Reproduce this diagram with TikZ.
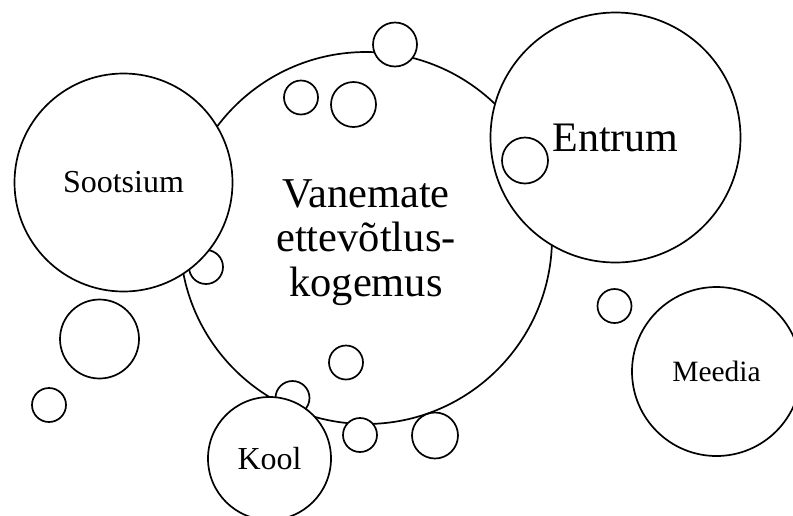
\documentclass[tikz,border=0pt]{standalone}
\usepackage{fontspec}
\setmainfont{Liberation Serif}
\begin{document}
\begin{tikzpicture}[x=1pt,y=-1pt,
    bubble/.style={circle,draw,fill=white,line width=1.7pt,inner sep=0pt,minimum size=#1},
    big_text/.style={font=\fontsize{42.5}{44.5}\selectfont,align=center,text depth=0pt},
    side_text/.style={font=\fontsize{32}{36}\selectfont}]
    \clip (0,0) rectangle (793,515);
    \node[bubble=372pt,big_text] (vanemad) at (366, 238) {Vanemate\\ettevõtlus-\\kogemus};
    \node[bubble=44pt] (1) at (395, 44.5) {};
    \node[bubble=34pt] (2) at (301, 97.5) {};
    \node[bubble=45pt] (3) at (353.5, 104.5) {};
    \node[bubble=34pt] (4) at (206, 267) {};
    \node[bubble=79pt] (5) at (99.5, 339) {};
    \node[bubble=34pt] (6) at (49, 405) {};
    \node[bubble=34pt] (7) at (346, 362.5) {};
    \node[bubble=34pt] (8) at (292.5, 398) {};
    \node[bubble=34pt] (9) at (360, 435) {};
    \node[bubble=46pt] (10) at (435, 435.5) {};
    \node[bubble=34pt] (11) at (614.5, 306) {};
    \node[bubble=218pt,side_text] (sootsium) at (123.5, 182.5) {Sootsium};
    \node[bubble=250pt,font=\fontsize{42}{46}\selectfont] (entrum) at (615.5, 137.5) {Entrum};
    \node[bubble=169pt,font=\fontsize{29.5}{33}\selectfont] (meedia) at (716.5, 371.5) {Meedia};
    \node[bubble=123pt,side_text] (kool) at (269.5, 458.5) {Kool};
    \node[bubble=46pt] (12) at (525, 160.5) {};
\end{tikzpicture}
\end{document}
